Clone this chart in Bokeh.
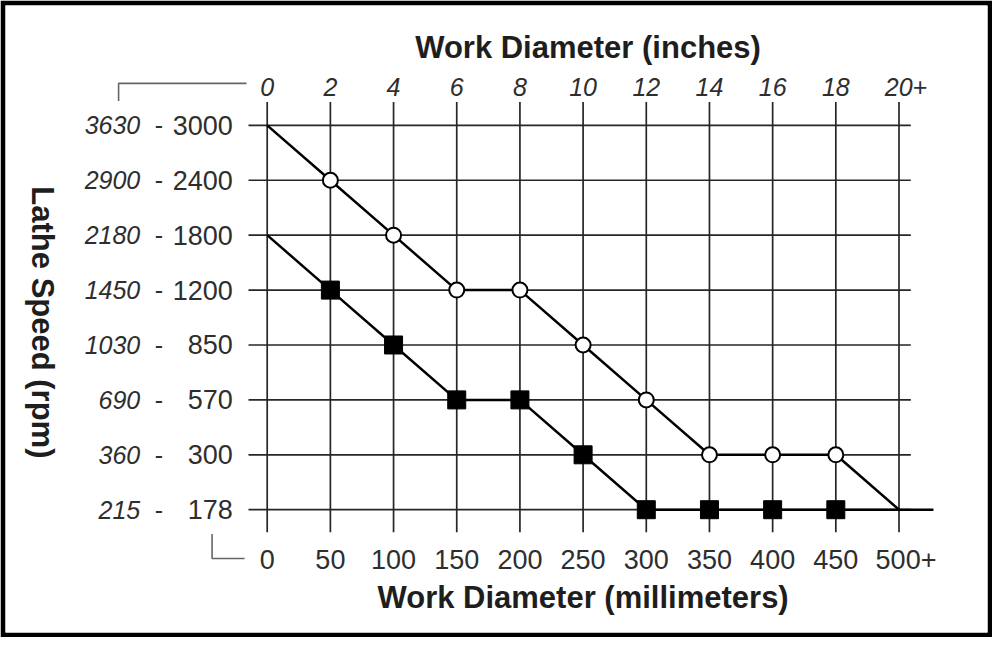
import math
from bokeh.plotting import figure
from bokeh.models import Range1d
from bokeh.core.properties import value
from bokeh.embed import file_html
from bokeh.resources import INLINE

# ---------------- data ----------------
mm_ticks = [0, 50, 100, 150, 200, 250, 300, 350, 400, 450, 500]
mm_labels = ["0", "50", "100", "150", "200", "250", "300", "350", "400", "450", "500+"]
inch_labels = ["0", "2", "4", "6", "8", "10", "12", "14", "16", "18", "20+"]

rpm_levels = [178, 300, 570, 850, 1200, 1800, 2400, 3000]      # bottom -> top
rpm_alt = [215, 360, 690, 1030, 1450, 2180, 2900, 3630]       # companion speeds

upper_x = [0, 50, 100, 150, 200, 250, 300, 350, 400, 450, 500]
upper_rpm = [3000, 2400, 1800, 1200, 1200, 850, 570, 300, 300, 300, 178]
circle_x = [50, 100, 150, 200, 250, 300, 350, 400, 450]
circle_rpm = [2400, 1800, 1200, 1200, 850, 570, 300, 300, 300]

lower_x = [0, 50, 100, 150, 200, 250, 300, 350, 400, 450]
lower_rpm = [1800, 1200, 850, 570, 570, 300, 178, 178, 178, 178]
square_x = [50, 100, 150, 200, 250, 300, 350, 400, 450]
square_rpm = [1200, 850, 570, 570, 300, 178, 178, 178, 178]

# ---------------- layout ----------------
W, H = 992, 637
B = 5
FW, FH = W - 2 * B, H - 2 * B
KX, KY = W / 1008.0, H / 653.0  # reference-image px -> figure px

def fx(ref):  # reference px (x) -> frame px from left
    return ref * KX - B

def fy(ref):  # reference px (y, from top) -> frame px from bottom
    return FH - (ref * KY - B)

x0_px, x500_px = fx(271), fx(913)
sx = (x500_px - x0_px) / 500.0
y0_px, y7_px = fy(522), fy(128)
sy = (y7_px - y0_px) / 7.0

def X(ref):
    return (fx(ref) - x0_px) / sx

def Y(ref):
    return (fy(ref) - y0_px) / sy

def lvl(r):
    return rpm_levels.index(r)

p = figure(width=W, height=H, output_backend="svg", toolbar_location=None, tools="",
           x_axis_type=None, y_axis_type=None,
           x_range=Range1d(-x0_px / sx, (FW - x0_px) / sx),
           y_range=Range1d(-y0_px / sy, (FH - y0_px) / sy),
           min_border_left=B, min_border_right=B, min_border_top=B, min_border_bottom=B)
p.border_fill_color = "black"
p.background_fill_color = "white"
p.outline_line_color = None
p.grid.visible = False

FONT = "Liberation Sans"
GRID = "#262626"
TXT = "#2e2e2e"

# grid
p.segment(x0=mm_ticks, x1=mm_ticks, y0=[Y(104)] * len(mm_ticks), y1=[Y(545)] * len(mm_ticks),
          line_color=GRID, line_width=1.7)
lv = list(range(len(rpm_levels)))
p.segment(x0=[X(252)] * len(lv), x1=[X(925)] * len(lv), y0=lv, y1=lv,
          line_color=GRID, line_width=1.7)

# brackets
p.line(x=[X(120), X(120), X(250)], y=[Y(103), Y(85), Y(85)], line_color="#666666", line_width=1.6)
p.line(x=[X(215), X(215), X(248)], y=[Y(547), Y(572), Y(572)], line_color="#666666", line_width=1.6)

# series lines
p.line(x=upper_x, y=[lvl(r) for r in upper_rpm], line_color="black", line_width=2.5)
p.line(x=lower_x + [X(948)], y=[lvl(r) for r in lower_rpm] + [lvl(178)], line_color="black", line_width=2.5)

# markers
p.scatter(x=circle_x, y=[lvl(r) for r in circle_rpm], marker="circle", size=15,
          fill_color="white", line_color="black", line_width=2)
p.scatter(x=square_x, y=[lvl(r) for r in square_rpm], marker="square", size=18,
          fill_color="black", line_color="black")

def plus_off(labels):
    return [7 if s.endswith("+") else 0 for s in labels]

# bottom tick labels (mm)
p.text(x=mm_ticks, y=[Y(573)] * len(mm_ticks), text=mm_labels, x_offset=plus_off(mm_labels),
       text_font=value(FONT), text_font_size=value("27px"), text_color=TXT,
       text_align="center", text_baseline="middle")
# top tick labels (inches)
p.text(x=mm_ticks, y=[Y(89)] * len(mm_ticks), text=inch_labels, x_offset=plus_off(inch_labels),
       text_font=value(FONT), text_font_size=value("25px"), text_font_style="italic", text_color=TXT,
       text_align="center", text_baseline="middle")

# left labels
p.text(x=[X(142)] * len(lv), y=lv, text=[str(v) for v in rpm_alt],
       text_font=value(FONT), text_font_size=value("25px"), text_font_style="italic", text_color=TXT,
       text_align="right", text_baseline="middle")
p.text(x=[X(161)] * len(lv), y=lv, text=["-"] * len(lv),
       text_font=value(FONT), text_font_size=value("25px"), text_color=TXT,
       text_align="center", text_baseline="middle")
p.text(x=[X(236)] * len(lv), y=lv, text=[str(v) for v in rpm_levels],
       text_font=value(FONT), text_font_size=value("27px"), text_color=TXT,
       text_align="right", text_baseline="middle")

# titles
p.text(x=[X(597)], y=[Y(48)], text=["Work Diameter (inches)"],
       text_font=value(FONT), text_font_size=value("31px"), text_font_style="bold", text_color="#1e1e1e",
       text_align="center", text_baseline="middle")
p.text(x=[X(592)], y=[Y(612)], text=["Work Diameter (millimeters)"],
       text_font=value(FONT), text_font_size=value("31px"), text_font_style="bold", text_color="#1e1e1e",
       text_align="center", text_baseline="middle")
p.text(x=[X(43)], y=[Y(330)], text=["Lathe Speed (rpm)"], angle=-math.pi / 2,
       text_font=value(FONT), text_font_size=value("31px"), text_font_style="bold", text_color="#1e1e1e",
       text_align="center", text_baseline="middle")

open("out.html", "w").write(file_html(p, INLINE))
